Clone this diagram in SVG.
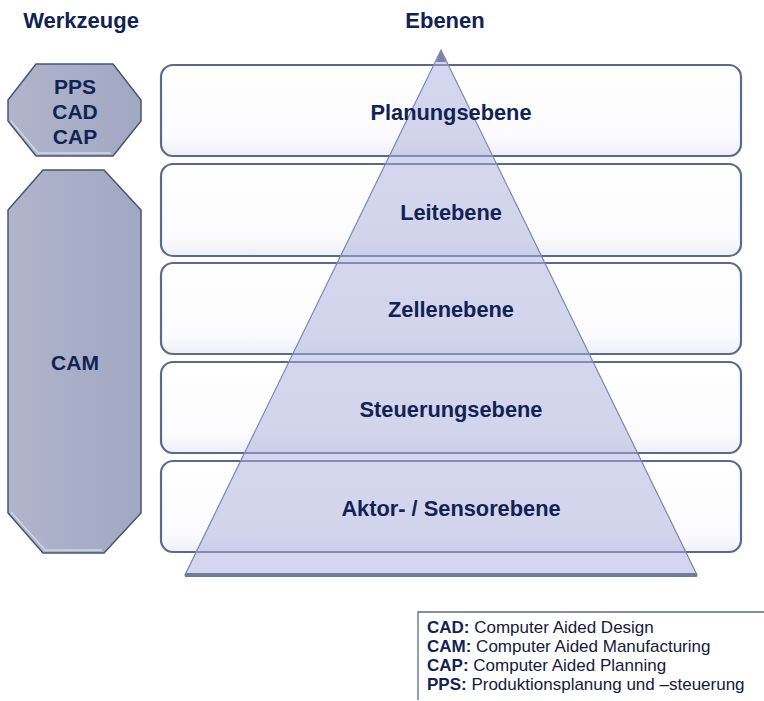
<svg xmlns="http://www.w3.org/2000/svg" width="764" height="701" viewBox="0 0 764 701">
<defs>
<linearGradient id="rectG" x1="0" y1="0" x2="0" y2="1">
<stop offset="0" stop-color="#ffffff"/>
<stop offset="0.8" stop-color="#fbfbfd"/>
<stop offset="1" stop-color="#eeeff5"/>
</linearGradient>
<linearGradient id="octG" x1="0" y1="0" x2="1" y2="0">
<stop offset="0" stop-color="#b0b5cb"/>
<stop offset="0.5" stop-color="#a8aec7"/>
<stop offset="1" stop-color="#a2a8c2"/>
</linearGradient>
<style>
.lvl{fill:url(#rectG);stroke:#5b6a8c;stroke-width:2.2}
.oct{fill:url(#octG);stroke:#4a5470;stroke-width:1.5}
.bev{fill:none;stroke:#d4d8e6;stroke-width:1.5}
.t{font-family:"Liberation Sans",Arial,sans-serif;font-weight:bold;fill:#112353;text-anchor:middle}
.lg{font-family:"Liberation Sans",Arial,sans-serif;font-size:17px;fill:#141a3c}
.lg tspan.b{font-weight:bold;fill:#112353}
</style>
</defs>
<rect width="764" height="701" fill="#ffffff"/>
<text class="t" x="81" y="28" font-size="22">Werkzeuge</text>
<text class="t" x="445" y="28" font-size="22">Ebenen</text>
<g id="tool-pps">
<polygon class="oct" points="36,64 113,64 141,100 141,121 113,156 36,156 8,121 8,100"/>
<polyline class="bev" points="11,121 38,153 111,153"/>
<text class="t" x="75" y="94" font-size="21">PPS</text>
<text class="t" x="75" y="119" font-size="21">CAD</text>
<text class="t" x="75" y="144" font-size="21">CAP</text>
</g>
<g id="tool-cam">
<polygon class="oct" points="43,170 104,170 141,210 141,513 104,553 43,553 8,513 8,210"/>
<polyline class="bev" points="11,512 45,550 102,550"/>
<text class="t" x="75" y="370" font-size="21">CAM</text>
</g>
<g id="level-1"><rect class="lvl" x="161" y="65" width="580" height="91" rx="12"/></g>
<g id="level-2"><rect class="lvl" x="161" y="164" width="580" height="92" rx="12"/></g>
<g id="level-3"><rect class="lvl" x="161" y="263" width="580" height="91" rx="12"/></g>
<g id="level-4"><rect class="lvl" x="161" y="362" width="580" height="91" rx="12"/></g>
<g id="level-5"><rect class="lvl" x="161" y="461" width="580" height="91" rx="12"/></g>
<g id="pyramid">
<polygon points="441,50 697,575 185,575" fill="#a9aedb" fill-opacity="0.5" stroke="#7d86b0" stroke-width="1.2"/>
<polygon points="441,50 446,62 436,62" fill="#7a84b2"/>
<rect x="185" y="573" width="512" height="4" fill="#707a9c"/>
</g>
<g id="labels">
<text class="t" x="451" y="120" font-size="21.8">Planungsebene</text>
<text class="t" x="451" y="220" font-size="21.8">Leitebene</text>
<text class="t" x="451" y="317" font-size="21.8">Zellenebene</text>
<text class="t" x="451" y="417" font-size="21.8">Steuerungsebene</text>
<text class="t" x="451" y="516" font-size="21.8">Aktor- / Sensorebene</text>
</g>
<g id="legend">
<path d="M764,612 H418 V700" fill="none" stroke="#5b6a8c" stroke-width="1.3"/>
<text class="lg" x="427" y="633"><tspan class="b">CAD:</tspan> Computer Aided Design</text>
<text class="lg" x="427" y="652"><tspan class="b">CAM:</tspan> Computer Aided Manufacturing</text>
<text class="lg" x="427" y="671"><tspan class="b">CAP:</tspan> Computer Aided Planning</text>
<text class="lg" x="427" y="690"><tspan class="b">PPS:</tspan> Produktionsplanung und –steuerung</text>
</g>
</svg>
